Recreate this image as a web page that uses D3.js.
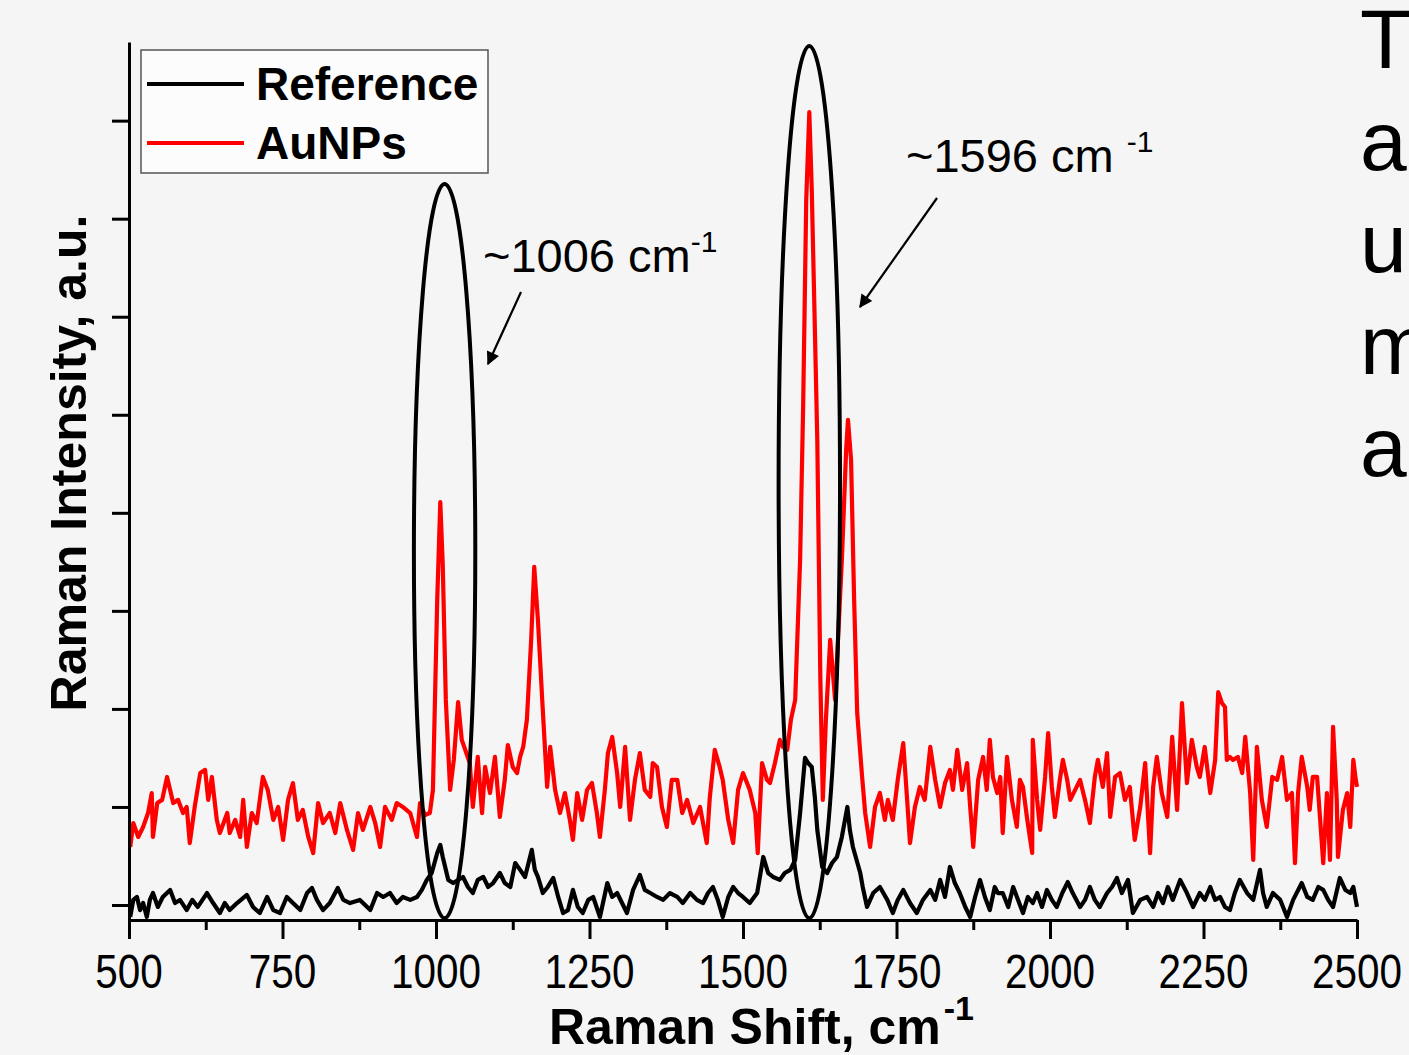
<!DOCTYPE html>
<html>
<head>
<meta charset="utf-8">
<script src="https://cdn.jsdelivr.net/npm/d3@7"></script>
<style>
    html, body { margin: 0; padding: 0; background: #f5f5f5; overflow: hidden; }
    svg { display: block; font-family: "Liberation Sans", Arial, sans-serif; }
</style>
</head>
<body>
<div id="chart"></div>
<script>
// AuNPs spectrum (red): [Raman shift, intensity]
const auNPs = [
    [502, 296], [507, 418], [515, 347], [523, 398], [531, 469], [537, 571], [539, 347], [546, 520], [554, 536], [562, 653],
    [567, 587], [572, 520], [580, 536], [588, 469], [594, 500], [599, 316], [607, 500], [616, 673], [624, 689], [629, 536],
    [635, 653], [643, 434], [648, 367], [660, 469], [664, 367], [673, 434], [681, 347], [686, 536], [692, 296], [700, 469],
    [708, 418], [718, 653], [726, 587], [735, 434], [743, 500], [751, 332], [759, 536], [767, 622], [775, 434], [783, 485],
    [792, 347], [800, 265], [808, 520], [816, 418], [827, 469], [836, 367], [844, 520], [855, 383], [865, 281], [873, 469],
    [881, 383], [893, 500], [901, 418], [909, 296], [917, 500], [928, 434], [936, 520], [946, 500], [958, 469], [969, 347],
    [974, 520], [982, 459], [990, 469], [995, 587], [1002, 1556], [1007, 2055], [1011, 1734], [1016, 1046], [1023, 587], [1029, 740],
    [1036, 1035], [1042, 842], [1055, 724], [1060, 500], [1068, 755], [1075, 469], [1080, 704], [1088, 571], [1096, 755], [1104, 449],
    [1112, 638], [1117, 816], [1125, 704], [1132, 673], [1137, 755], [1142, 806], [1148, 944], [1155, 1352], [1160, 1724], [1166, 1454],
    [1173, 1046], [1181, 602], [1186, 806], [1194, 587], [1202, 469], [1210, 571], [1218, 434], [1223, 332], [1230, 571], [1238, 434],
    [1246, 587], [1254, 622], [1262, 469], [1267, 347], [1275, 587], [1280, 775], [1287, 857], [1295, 673], [1300, 500], [1308, 806],
    [1316, 434], [1324, 638], [1332, 775], [1340, 587], [1349, 551], [1353, 724], [1360, 704], [1368, 500], [1376, 398], [1384, 638],
    [1393, 638], [1401, 469], [1409, 536], [1419, 418], [1430, 500], [1441, 316], [1446, 551], [1454, 791], [1462, 704], [1467, 638],
    [1476, 434], [1484, 316], [1492, 587], [1500, 673], [1511, 587], [1520, 469], [1524, 265], [1531, 724], [1539, 638], [1544, 622],
    [1552, 724], [1560, 842], [1565, 806], [1572, 791], [1578, 944], [1585, 1046], [1593, 1760], [1598, 2550], [1603, 3596], [1608, 4044],
    [1612, 3647], [1616, 3086], [1621, 2372], [1626, 1148], [1630, 536], [1635, 944], [1642, 1352], [1650, 1046], [1661, 1760], [1668, 2321],
    [1671, 2474], [1676, 2270], [1681, 1556], [1686, 979], [1694, 653], [1699, 469], [1707, 296], [1715, 500], [1723, 571], [1731, 434],
    [1736, 536], [1744, 434], [1752, 638], [1761, 826], [1767, 551], [1772, 316], [1780, 500], [1788, 602], [1796, 536], [1805, 806],
    [1813, 638], [1821, 500], [1829, 622], [1837, 689], [1842, 587], [1849, 791], [1857, 587], [1865, 724], [1870, 500], [1875, 296],
    [1883, 638], [1891, 755], [1897, 587], [1902, 842], [1907, 653], [1914, 571], [1919, 653], [1923, 367], [1930, 755], [1938, 536],
    [1946, 398], [1951, 638], [1956, 602], [1963, 434], [1971, 265], [1972, 842], [1979, 536], [1984, 383], [1992, 653], [1997, 877],
    [2003, 602], [2008, 449], [2016, 638], [2021, 740], [2028, 638], [2033, 536], [2041, 587], [2049, 638], [2057, 536], [2065, 418],
    [2073, 653], [2078, 740], [2086, 602], [2093, 775], [2098, 449], [2106, 653], [2114, 673], [2122, 536], [2130, 602], [2138, 332],
    [2147, 500], [2155, 724], [2163, 265], [2168, 602], [2174, 755], [2182, 571], [2191, 449], [2199, 857], [2207, 485], [2215, 1030],
    [2223, 622], [2231, 842], [2239, 704], [2244, 653], [2252, 806], [2261, 571], [2269, 740], [2274, 1086], [2280, 1030], [2285, 1010],
    [2288, 740], [2293, 755], [2298, 740], [2306, 755], [2313, 673], [2318, 857], [2326, 571], [2331, 230], [2337, 806], [2345, 536],
    [2353, 398], [2362, 653], [2370, 638], [2378, 755], [2386, 536], [2394, 571], [2399, 214], [2404, 571], [2410, 755], [2419, 602],
    [2423, 485], [2428, 653], [2435, 653], [2440, 434], [2445, 214], [2451, 571], [2456, 230], [2461, 908], [2467, 536], [2469, 245],
    [2477, 485], [2484, 571], [2489, 398], [2494, 740], [2498, 638], [2500, 602]
];

// Reference spectrum (black)
const reference = [
    [502, -61], [507, 26], [513, 41], [518, -26], [523, 10], [529, -61], [534, 26], [539, 61], [547, -10], [555, 41],
    [567, 77], [575, 10], [583, 26], [594, -26], [603, 26], [612, -10], [627, 61], [637, 10], [648, -41], [656, 10],
    [664, -26], [676, 10], [692, 51], [702, -10], [713, -41], [725, 41], [735, -26], [746, -41], [757, 41], [767, 10],
    [779, -26], [790, 61], [798, 87], [806, 26], [816, -26], [827, 10], [840, 87], [849, 26], [860, 10], [876, 26],
    [893, -26], [904, 61], [914, 41], [925, 61], [936, 10], [946, 41], [958, 26], [969, 41], [977, 77], [985, 128],
    [993, 163], [1002, 265], [1007, 306], [1011, 245], [1020, 128], [1028, 112], [1036, 128], [1044, 143], [1052, 92], [1060, 61],
    [1068, 128], [1077, 143], [1085, 92], [1093, 112], [1104, 163], [1112, 112], [1121, 92], [1129, 214], [1137, 179], [1145, 143],
    [1156, 281], [1161, 179], [1166, 143], [1174, 61], [1182, 92], [1191, 138], [1199, 41], [1207, -41], [1215, -26], [1223, 77],
    [1231, -10], [1239, -41], [1248, 26], [1256, 41], [1267, -61], [1279, 112], [1287, 41], [1295, 61], [1303, 10], [1311, -41],
    [1321, 77], [1332, 153], [1340, 77], [1349, 61], [1360, 41], [1370, 26], [1381, 61], [1393, 41], [1402, 10], [1414, 61],
    [1425, 26], [1435, 10], [1443, 61], [1451, 92], [1459, 26], [1467, -61], [1476, 41], [1484, 92], [1492, 61], [1500, 41],
    [1511, 10], [1523, 61], [1533, 245], [1541, 163], [1549, 143], [1560, 128], [1568, 163], [1577, 179], [1585, 230], [1593, 469],
    [1601, 750], [1606, 724], [1612, 704], [1617, 551], [1621, 383], [1629, 194], [1637, 163], [1645, 214], [1653, 245], [1661, 347],
    [1670, 500], [1674, 383], [1679, 296], [1691, 163], [1695, 92], [1702, -10], [1712, 61], [1723, 92], [1735, 26], [1744, -41],
    [1752, 26], [1761, 77], [1772, 10], [1783, -41], [1793, 26], [1805, 77], [1813, 26], [1821, 128], [1829, 41], [1837, 194],
    [1845, 112], [1853, 61], [1862, -10], [1870, -61], [1878, 41], [1886, 128], [1894, 41], [1902, -26], [1910, 92], [1915, 61],
    [1923, 61], [1932, -10], [1940, 92], [1948, 26], [1956, -41], [1964, 41], [1972, 10], [1979, 61], [1987, -10], [1995, 77],
    [2003, 26], [2011, -10], [2020, 61], [2029, 117], [2037, 61], [2049, -10], [2057, 26], [2065, 92], [2073, 26], [2081, -10],
    [2093, 61], [2101, 92], [2109, 138], [2117, 61], [2127, 128], [2135, -41], [2147, 26], [2158, 41], [2168, -10], [2176, 61],
    [2184, 10], [2192, 92], [2200, 26], [2212, 128], [2223, 61], [2233, -10], [2244, 61], [2252, 26], [2261, 92], [2269, 26],
    [2277, 41], [2285, -10], [2293, -26], [2301, 61], [2309, 128], [2321, 61], [2331, 26], [2342, 179], [2347, 61], [2353, -10],
    [2363, 61], [2375, 26], [2386, -61], [2396, 26], [2410, 112], [2419, 41], [2428, 26], [2437, 92], [2445, 77], [2453, 26],
    [2461, -10], [2472, 138], [2481, 77], [2489, 61], [2494, 92], [2500, -10]
];

const xTicks = [500, 750, 1000, 1250, 1500, 1750, 2000, 2250, 2500];
const yTicks = [0, 500, 1000, 1500, 2000, 2500, 3000, 3500, 4000];
const seriesNames = ["Reference", "AuNPs"];
const seriesColors = ["#000000", "#ff0000"];
// marked bands: [centre shift, half width, centre intensity, half height]
const bands = [[1014, 50, 1805, 1872], [1608, 50, 2157, 2224]];
const bandLabels = ["~1006 cm", "~1596 cm "];
const sideText = ["T", "a", "u", "m", "a"];

const width = 1409;
const height = 1055;

const svg = d3.select("#chart")
    .append("svg")
    .attr("width", width)
    .attr("height", height);

svg.append("rect")
    .attr("width", width)
    .attr("height", height)
    .attr("fill", "#f5f5f5");

const x = d3.scaleLinear().domain([500, 2500]).range([129, 1357]);
const y = d3.scaleLinear().domain([-76.5, 4401]).range([920, 42]);

// spectra, red first so black sits on top
const line = d3.line()
    .x(d => x(d[0]))
    .y(d => y(d[1]));

svg.selectAll(".spectrum")
    .data([{ pts: auNPs, color: seriesColors[1] }, { pts: reference, color: seriesColors[0] }])
    .enter()
    .append("path")
    .attr("class", "spectrum")
    .attr("fill", "none")
    .attr("stroke", d => d.color)
    .attr("stroke-width", 4.2)
    .attr("stroke-linejoin", "round")
    .attr("d", d => line(d.pts));

// axes
const xAxis = d3.axisBottom(x)
    .tickValues(d3.range(500, 2501, 125))
    .tickSizeOuter(0)
    .tickFormat("");

const gx = svg.append("g")
    .attr("transform", `translate(0,${y(-76.5)})`)
    .call(xAxis);
gx.select(".domain").attr("stroke", "#000").attr("stroke-width", 3);
gx.selectAll(".tick line")
    .attr("stroke", "#000")
    .attr("stroke-width", 3)
    .attr("y2", d => xTicks.includes(d) ? 19 : 10);

svg.selectAll(".xlabel")
    .data(xTicks)
    .enter()
    .append("text")
    .attr("class", "xlabel")
    .attr("x", d => x(d))
    .attr("y", 988)
    .attr("text-anchor", "middle")
    .attr("font-size", 48)
    .attr("textLength", d => String(d).length * 22.5)
    .attr("lengthAdjust", "spacingAndGlyphs")
    .text(d => d);

const yAxis = d3.axisLeft(y)
    .tickValues(yTicks)
    .tickSizeInner(17)
    .tickSizeOuter(0)
    .tickFormat("");

const gy = svg.append("g")
    .attr("transform", `translate(${x(500)},0)`)
    .call(yAxis);
gy.select(".domain").attr("stroke", "#000").attr("stroke-width", 3);
gy.selectAll(".tick line").attr("stroke", "#000").attr("stroke-width", 3);

// axis titles
const xTitle = svg.append("text")
    .attr("x", 549)
    .attr("y", 1044)
    .attr("font-size", 50)
    .attr("font-weight", "bold");
xTitle.append("tspan").text("Raman Shift, cm");
xTitle.append("tspan").attr("font-size", 34).attr("dx", 3).attr("dy", -24).text("-1");

svg.append("text")
    .attr("transform", "translate(86,463) rotate(-90)")
    .attr("text-anchor", "middle")
    .attr("font-size", 50)
    .attr("font-weight", "bold")
    .attr("textLength", 497)
    .attr("lengthAdjust", "spacingAndGlyphs")
    .text("Raman Intensity, a.u.");

// ellipses round the two bands
svg.selectAll(".band")
    .data(bands)
    .enter()
    .append("ellipse")
    .attr("class", "band")
    .attr("cx", d => x(d[0]))
    .attr("cy", d => y(d[2]))
    .attr("rx", d => x(d[0] + d[1]) - x(d[0]))
    .attr("ry", d => y(d[2] - d[3]) - y(d[2]))
    .attr("fill", "none")
    .attr("stroke", "#000")
    .attr("stroke-width", 4);

// annotations with arrows
svg.append("defs")
    .append("marker")
    .attr("id", "head")
    .attr("viewBox", "0 0 10 10")
    .attr("refX", 9)
    .attr("refY", 5)
    .attr("markerWidth", 8)
    .attr("markerHeight", 6)
    .attr("markerUnits", "strokeWidth")
    .attr("orient", "auto")
    .append("path")
    .attr("d", "M0,0 L10,5 L0,10 Z")
    .attr("fill", "#000");

const arrows = [[521, 292, 488, 364], [937, 198, 860, 307]];
svg.selectAll(".arrow")
    .data(arrows)
    .enter()
    .append("line")
    .attr("class", "arrow")
    .attr("x1", d => d[0])
    .attr("y1", d => d[1])
    .attr("x2", d => d[2])
    .attr("y2", d => d[3])
    .attr("stroke", "#000")
    .attr("stroke-width", 2.2)
    .attr("marker-end", "url(#head)");

const labelPos = [[483, 272], [906, 172]];
bandLabels.forEach((txt, i) => {
    const t = svg.append("text")
        .attr("x", labelPos[i][0])
        .attr("y", labelPos[i][1])
        .attr("font-size", 47);
    t.append("tspan").text(txt);
    t.append("tspan").attr("font-size", 30).attr("dy", -20).text("-1");
});

// legend
const legend = svg.append("g");
legend.append("rect")
    .attr("x", 141)
    .attr("y", 50)
    .attr("width", 347)
    .attr("height", 123)
    .attr("fill", "#fcfcfc")
    .attr("stroke", "#555")
    .attr("stroke-width", 1.5);

seriesNames.forEach((name, i) => {
    const ly = 84 + i * 59;
    legend.append("line")
        .attr("x1", 147)
        .attr("x2", 244)
        .attr("y1", ly)
        .attr("y2", ly)
        .attr("stroke", seriesColors[i])
        .attr("stroke-width", 4);
    legend.append("text")
        .attr("x", 256)
        .attr("y", ly + 16)
        .attr("font-size", 46)
        .attr("font-weight", "bold")
        .text(name);
});

// cut-off slide text on the right
svg.selectAll(".side")
    .data(sideText)
    .enter()
    .append("text")
    .attr("class", "side")
    .attr("x", 1360)
    .attr("y", (d, i) => 68 + i * 102)
    .attr("font-size", 84)
    .text(d => d);
</script>
</body>
</html>
